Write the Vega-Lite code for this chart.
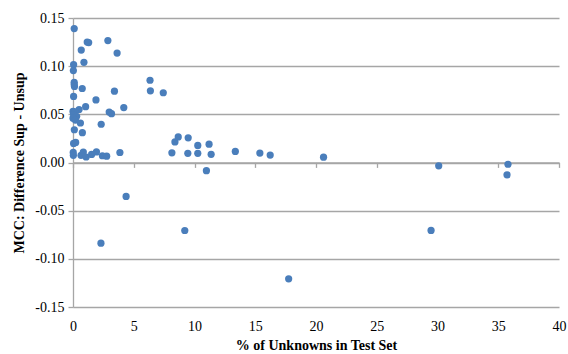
{
  "$schema": "https://vega.github.io/schema/vega-lite/v6.json",
  "autosize": {"type": "none"},
  "width": 486,
  "height": 289,
  "padding": {"left": 73, "top": 18, "right": 9, "bottom": 47},
  "background": "white",
  "config": {
    "view": {"stroke": null},
    "font": "Liberation Serif",
    "axis": {"labelFont": "Liberation Serif", "titleFont": "Liberation Serif", "labelColor": "#000000", "titleColor": "#000000", "labelFontSize": 14, "titleFontSize": 14, "titleFontWeight": "bold"}
  },
  "data": {"values": [
    {"pct": 0.1, "mcc": 0.139},
    {"pct": 1.17, "mcc": 0.125},
    {"pct": 1.29, "mcc": 0.1245},
    {"pct": 2.87, "mcc": 0.1266},
    {"pct": 0.68, "mcc": 0.1167},
    {"pct": 3.63, "mcc": 0.1136},
    {"pct": 0.05, "mcc": 0.1015},
    {"pct": 0.9, "mcc": 0.104},
    {"pct": 0.03, "mcc": 0.0954},
    {"pct": 0.1, "mcc": 0.0833},
    {"pct": 0.1, "mcc": 0.081},
    {"pct": 0.12, "mcc": 0.0789},
    {"pct": 0.76, "mcc": 0.0768},
    {"pct": 6.34, "mcc": 0.0854},
    {"pct": 6.37, "mcc": 0.0744},
    {"pct": 7.43, "mcc": 0.0724},
    {"pct": 3.41, "mcc": 0.074},
    {"pct": 0.05, "mcc": 0.0686},
    {"pct": 1.89, "mcc": 0.065},
    {"pct": 1.04, "mcc": 0.058},
    {"pct": 0.5, "mcc": 0.055},
    {"pct": 4.18, "mcc": 0.057},
    {"pct": 2.98, "mcc": 0.0524},
    {"pct": 3.17, "mcc": 0.0507},
    {"pct": 0.0, "mcc": 0.053},
    {"pct": 0.14, "mcc": 0.0525},
    {"pct": 0.05, "mcc": 0.0498},
    {"pct": 0.3, "mcc": 0.048},
    {"pct": 0.0, "mcc": 0.046},
    {"pct": 0.2, "mcc": 0.044},
    {"pct": 0.61, "mcc": 0.041},
    {"pct": 2.32, "mcc": 0.0397},
    {"pct": 0.11, "mcc": 0.034},
    {"pct": 0.77, "mcc": 0.031},
    {"pct": 0.05, "mcc": 0.0198},
    {"pct": 0.22, "mcc": 0.0208},
    {"pct": 0.02, "mcc": 0.0105},
    {"pct": 0.03, "mcc": 0.0074},
    {"pct": 0.66, "mcc": 0.0075},
    {"pct": 0.85, "mcc": 0.0108},
    {"pct": 1.08, "mcc": 0.0057},
    {"pct": 1.53, "mcc": 0.0084},
    {"pct": 1.93, "mcc": 0.011},
    {"pct": 2.42, "mcc": 0.007},
    {"pct": 2.77, "mcc": 0.0066},
    {"pct": 3.86, "mcc": 0.0104},
    {"pct": 8.14, "mcc": 0.0101},
    {"pct": 8.39, "mcc": 0.0214},
    {"pct": 8.66, "mcc": 0.0266},
    {"pct": 9.48, "mcc": 0.0256},
    {"pct": 9.45, "mcc": 0.0095},
    {"pct": 10.27, "mcc": 0.0177},
    {"pct": 10.27, "mcc": 0.0095},
    {"pct": 11.2, "mcc": 0.019},
    {"pct": 11.37, "mcc": 0.0085},
    {"pct": 10.98, "mcc": -0.0085},
    {"pct": 13.36, "mcc": 0.0115},
    {"pct": 15.38, "mcc": 0.0098},
    {"pct": 16.23, "mcc": 0.0077},
    {"pct": 20.62, "mcc": 0.0055},
    {"pct": 30.1, "mcc": -0.0035},
    {"pct": 35.8, "mcc": -0.0018},
    {"pct": 35.72, "mcc": -0.0128},
    {"pct": 29.47, "mcc": -0.0705},
    {"pct": 17.75, "mcc": -0.1207},
    {"pct": 4.37, "mcc": -0.0352},
    {"pct": 2.3, "mcc": -0.0837},
    {"pct": 9.2, "mcc": -0.0706}
  ]},
  "resolve": {"axis": {"x": "independent", "y": "independent"}},
  "layer": [
    {
      "mark": {"type": "point", "filled": true, "opacity": 0},
      "encoding": {
        "x": {"field": "pct", "type": "quantitative", "scale": {"domain": [0, 40], "nice": false, "zero": false},
          "axis": {"orient": "bottom", "offset": -144.6, "labels": false, "title": null, "grid": false, "domain": true, "domainColor": "#a6a6a6", "domainWidth": 1.3, "ticks": true, "tickColor": "#a6a6a6", "tickSize": 5, "tickWidth": 1.3, "values": [0, 5, 10, 15, 20, 25, 30, 35, 40]}},
        "y": {"field": "mcc", "type": "quantitative", "scale": {"domain": [-0.15, 0.15], "nice": false, "zero": false},
          "axis": {"orient": "left", "title": "MCC: Difference Sup - Unsup", "values": [-0.15, -0.1, -0.05, 0, 0.05, 0.1, 0.15],
            "labelExpr": "(datum.value < -0.0001 ? '-' : '') + format(abs(datum.value), '.2f')",
            "labelFont": "Liberation Serif", "labelFontSize": 14, "labelColor": "#000000", "labelFlush": false,
            "titleFont": "Liberation Serif", "titleFontSize": 14, "titleFontWeight": "bold", "titleColor": "#000000",
            "grid": true, "gridColor": "#a6a6a6", "gridWidth": 1.3, "domain": true, "domainColor": "#a6a6a6", "domainWidth": 1.3,
            "ticks": true, "tickColor": "#a6a6a6", "tickSize": 5, "tickWidth": 1.3, "labelPadding": 4, "titlePadding": 8}}
      }
    },
    {
      "mark": {"type": "point", "filled": true, "opacity": 1, "size": 52, "color": "#4a7ebb"},
      "encoding": {
        "x": {"field": "pct", "type": "quantitative", "scale": {"domain": [0, 40], "nice": false, "zero": false},
          "axis": {"orient": "bottom", "title": "% of Unknowns in Test Set", "values": [0, 5, 10, 15, 20, 25, 30, 35, 40],
            "labelFont": "Liberation Serif", "labelFontSize": 14, "labelColor": "#000000", "labelFlush": false,
            "titleFont": "Liberation Serif", "titleFontSize": 14, "titleFontWeight": "bold", "titleColor": "#000000",
            "grid": false, "domain": false, "ticks": false, "tickSize": 0, "labelPadding": 12, "titlePadding": 5}},
        "y": {"field": "mcc", "type": "quantitative", "scale": {"domain": [-0.15, 0.15], "nice": false, "zero": false}, "axis": null}
      }
    }
  ]
}
